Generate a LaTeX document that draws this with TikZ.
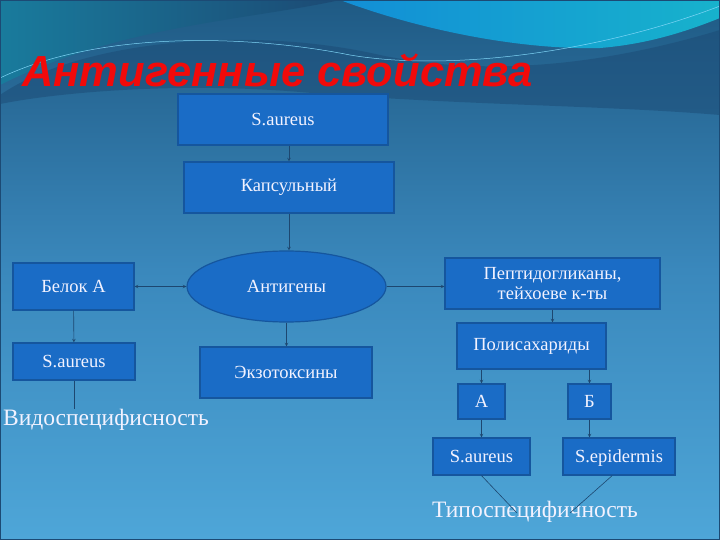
\documentclass[tikz,border=0pt]{standalone}
\usepackage{fontspec}
\setmainfont{Liberation Serif}
\newfontfamily\titlefont{Liberation Sans}
\usetikzlibrary{shapes.geometric,calc}
\definecolor{boxblue}{HTML}{1A6CC6}
\definecolor{boxedge}{HTML}{15569E}
\definecolor{linkblue}{HTML}{1D4770}
\definecolor{bgtop}{HTML}{1F5A84}
\definecolor{bgmid}{HTML}{3A88BC}
\definecolor{bgbottom}{HTML}{4EA6D8}
\definecolor{wavecyan}{HTML}{17B2CC}
\definecolor{wavedark}{HTML}{1C4A74}
\definecolor{titlered}{HTML}{F20A0A}
\tikzset{
  blk/.style={draw=boxedge, line width=1.2pt, fill=boxblue, text={white!95!blue}, inner sep=0pt,
    font=\fontsize{18.5}{20}\selectfont, align=center},
  lnk/.style={draw=linkblue, line width=0.6pt},
  arr/.style={lnk, ->, >=stealth},
  lbl/.style={text={white!95!blue}, inner sep=0pt, font=\fontsize{23.5}{25}\selectfont},
}
\begin{document}
\begin{tikzpicture}[x=1pt, y=-1pt]
\useasboundingbox (0,0) rectangle (720,540);
% background
\shade[top color=bgtop, bottom color=bgbottom, middle color=bgmid] (0,0) rectangle (720,540);
\fill[wavedark, opacity=0.5] (0,95) .. controls (80,40) and (250,25) .. (380,55) .. controls (500,80) and (620,60) .. (720,30) -- (720,115) .. controls (600,105) and (450,105) .. (300,92) .. controls (180,82) and (60,92) .. (0,104) -- cycle;
\shade[left color=bgtop!80!cyan, right color=wavedark] (0,0) -- (340,0) .. controls (250,20) and (120,25) .. (0,85) -- cycle;
\shade[left color=wavecyan!80!blue, right color=wavecyan] (340,0) .. controls (420,30) and (520,50) .. (600,48) .. controls (650,44) and (690,30) .. (720,18) -- (720,0) -- cycle;
\draw[cyan!50!white, line width=0.5pt] (0,78) .. controls (100,30) and (250,35) .. (350,55) .. controls (450,72) and (600,52) .. (720,6);
\draw[wavedark, line width=1.5pt] (0,0) rectangle (720,540);
%\draw[help lines, step=20] (0,0) grid (720,540);

\node[anchor=west, text=titlered, inner sep=0pt, font=\titlefont\bfseries\itshape\fontsize{43.5}{46}\selectfont] (title) at (22,70) {Антигенные свойства};

\node[blk, minimum width=210pt, minimum height=51pt] (sa) at (283,119.5) {S.aureus};
\node[blk, minimum width=210pt, minimum height=51pt] (kaps) at (289,187.5) {Капсульный};
\node[blk, ellipse, minimum width=199pt, minimum height=71pt] (ant) at (286.5,286.5) {Антигены};
\node[blk, minimum width=121pt, minimum height=47pt] (belok) at (73.5,286.5) {Белок А};
\node[blk, minimum width=122pt, minimum height=37pt] (sa1) at (74,361.5) {S.aureus};
\node[blk, minimum width=172pt, minimum height=51pt] (exo) at (286,372.5) {Экзотоксины};
\node[blk, minimum width=215pt, minimum height=51pt] (pept) at (552.5,283.5) {Пептидогликаны,\\тейхоеве к-ты};
\node[blk, minimum width=149pt, minimum height=46pt] (poly) at (531.5,346) {Полисахариды};
\node[blk, minimum width=47pt, minimum height=35pt] (a) at (481.5,401.5) {А};
\node[blk, minimum width=43pt, minimum height=35pt] (b) at (589.5,401.5) {Б};
\node[blk, minimum width=97pt, minimum height=37pt] (sa2) at (481.5,456.5) {S.aureus};
\node[blk, minimum width=112pt, minimum height=37pt, text depth=0pt] (epi) at (619,456.5) {S.epidermis};
\node[lbl] (vid) at (106,420) {Видоспецифисность};
\node[lbl] (typ) at (535,512) {Типоспецифичность};
\coordinate (typl) at (517,513);
\coordinate (typr) at (570,513);

\draw[arr] (kaps.north |- sa.south) -- (kaps.north);
\draw[arr] (kaps.south) -- (kaps.south |- ant.north);
\draw[lnk, <->, >=stealth] (ant.west) -- (belok.east);
\draw[arr] (ant.east) -- (pept.west |- ant.east);
\draw[arr] (ant.south) -- (ant.south |- exo.north);
\draw[arr] (belok) -- (sa1);
\draw[lnk] (sa1.south) -- (sa1.south |- vid.north);
\draw[arr] (pept.south) -- (pept.south |- poly.north);
\draw[arr] (a.north |- poly.south) -- (a.north);
\draw[arr] (b.north |- poly.south) -- (b.north);
\draw[arr] (a) -- (sa2);
\draw[arr] (b.south) -- (b.south |- epi.north);
\draw[lnk] (sa2.south) -- (typl);
\draw[lnk] ($(epi.south west)!0.44!(epi.south east)$) -- (typr);
\end{tikzpicture}
\end{document}
